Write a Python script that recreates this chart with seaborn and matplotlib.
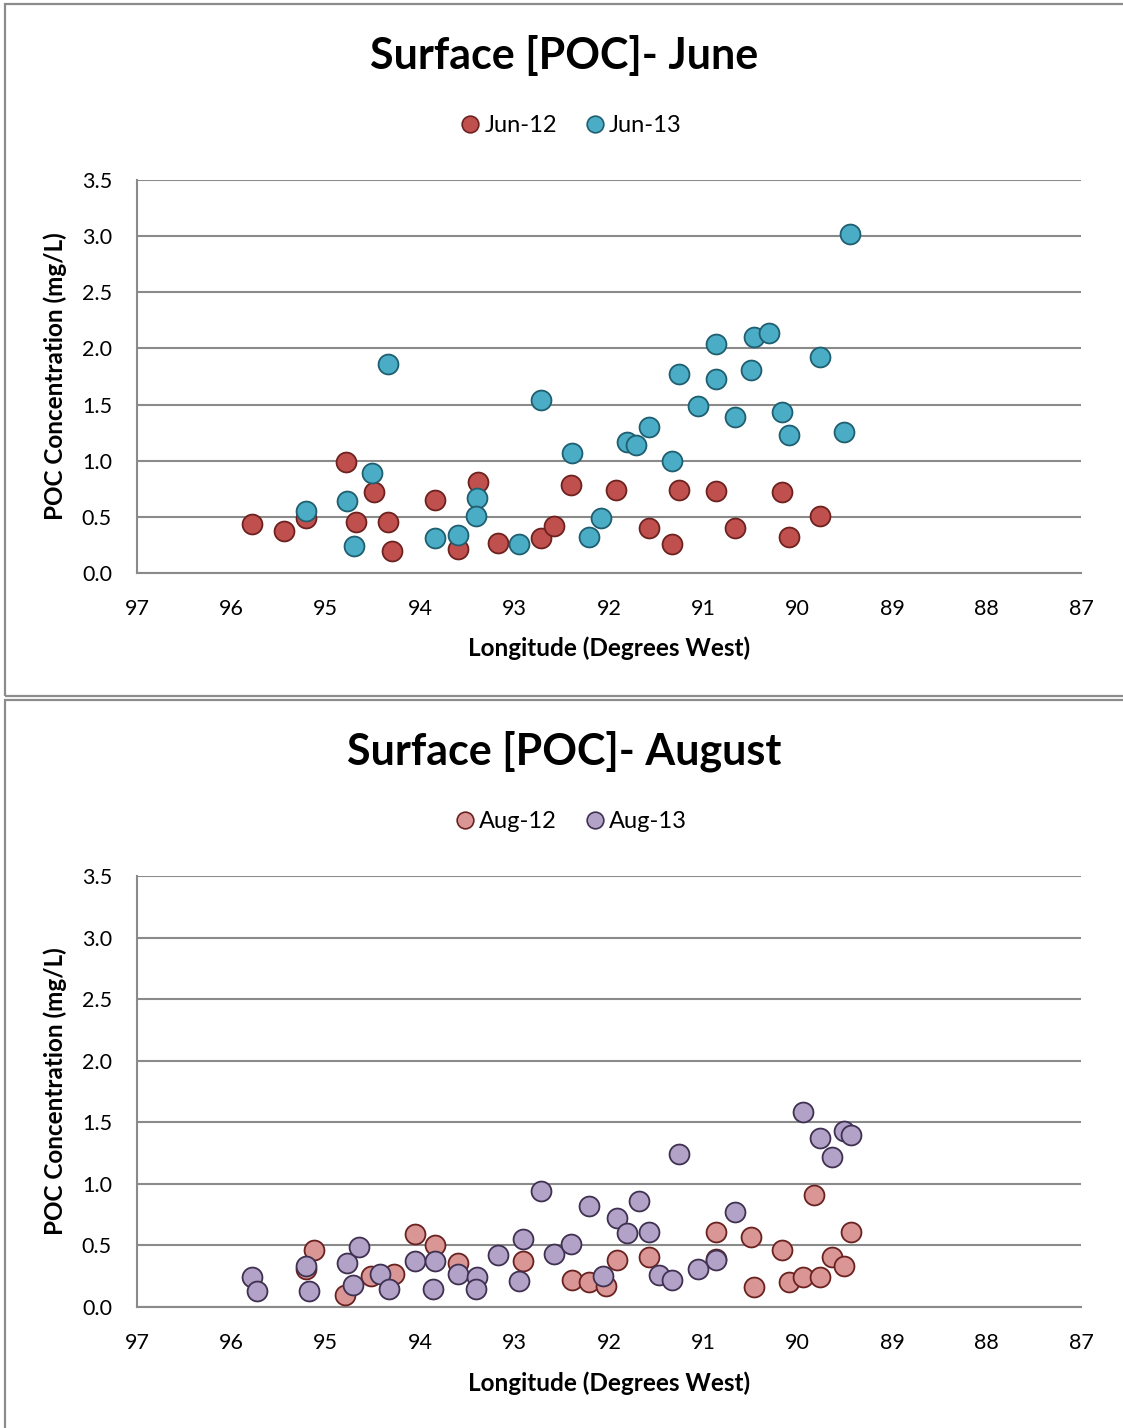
import matplotlib
matplotlib.use("Agg")
import matplotlib.pyplot as plt
import seaborn as sns
import pandas as pd
from matplotlib.patches import Rectangle
from matplotlib.lines import Line2D

# ---------------- data ----------------
jun12_lon = [95.78, 95.44, 95.21, 94.79, 94.49, 94.68, 94.34, 94.30, 93.84, 93.39,
             93.60, 93.18, 92.72, 92.58, 92.40, 91.93, 91.58, 91.33, 91.26, 90.87,
             90.67, 90.17, 90.09, 89.77]
jun12_poc = [0.44, 0.37, 0.49, 0.99, 0.72, 0.45, 0.45, 0.20, 0.65, 0.81,
             0.21, 0.27, 0.31, 0.42, 0.78, 0.74, 0.40, 0.26, 0.74, 0.73,
             0.40, 0.72, 0.32, 0.51]

jun13_lon = [95.21, 94.78, 94.51, 94.70, 94.34, 93.84, 93.60, 93.40, 93.41, 92.95,
             92.72, 92.39, 92.21, 92.09, 91.81, 91.71, 91.58, 91.33, 91.26, 91.06,
             90.87, 90.87, 90.67, 90.50, 90.46, 90.30, 90.17, 90.09, 89.77, 89.51,
             89.45]
jun13_poc = [0.55, 0.64, 0.89, 0.24, 1.86, 0.31, 0.34, 0.67, 0.51, 0.26,
             1.54, 1.07, 0.32, 0.49, 1.17, 1.14, 1.30, 1.00, 1.77, 1.49,
             2.04, 1.73, 1.39, 1.81, 2.10, 2.14, 1.43, 1.23, 1.92, 1.26,
             3.02]

aug12_lon = [95.12, 95.21, 94.80, 94.52, 94.28, 94.05, 93.84, 93.60, 92.91, 92.39,
             92.21, 92.03, 91.92, 91.58, 90.87, 90.87, 90.50, 90.46, 90.17, 90.09,
             89.94, 89.83, 89.77, 89.64, 89.51, 89.44]
aug12_poc = [0.46, 0.31, 0.10, 0.25, 0.27, 0.59, 0.50, 0.36, 0.37, 0.22,
             0.20, 0.17, 0.38, 0.41, 0.61, 0.39, 0.57, 0.16, 0.46, 0.20,
             0.24, 0.91, 0.24, 0.41, 0.33, 0.61]

aug13_lon = [95.78, 95.73, 95.21, 95.18, 94.78, 94.65, 94.71, 94.43, 94.33, 94.05,
             93.84, 93.86, 93.60, 93.40, 93.41, 93.18, 92.91, 92.95, 92.72, 92.58,
             92.40, 92.21, 92.06, 91.92, 91.81, 91.68, 91.58, 91.47, 91.33, 91.26,
             91.06, 90.87, 90.67, 89.94, 89.77, 89.64, 89.51, 89.44]
aug13_poc = [0.24, 0.13, 0.33, 0.13, 0.36, 0.49, 0.18, 0.27, 0.15, 0.37,
             0.37, 0.15, 0.27, 0.24, 0.15, 0.42, 0.55, 0.21, 0.94, 0.43,
             0.51, 0.82, 0.25, 0.72, 0.60, 0.86, 0.61, 0.26, 0.22, 1.24,
             0.31, 0.38, 0.77, 1.58, 1.37, 1.22, 1.43, 1.40]

titles = ["Surface [POC]- June", "Surface [POC]- August"]
labels_top = ["Jun-12", "Jun-13"]
labels_bot = ["Aug-12", "Aug-13"]
yticks = [0.0, 0.5, 1.0, 1.5, 2.0, 2.5, 3.0, 3.5]
xticks = [97, 96, 95, 94, 93, 92, 91, 90, 89, 88, 87]

# ---------------- style ----------------
sns.set_theme(style="white")
plt.rcParams['font.family'] = ['Lato', 'DejaVu Sans']
plt.rcParams['text.color'] = 'black'
plt.rcParams['axes.labelcolor'] = 'black'
plt.rcParams['xtick.color'] = 'black'
plt.rcParams['ytick.color'] = 'black'

W, H = 1123, 1428
fig = plt.figure(figsize=(W / 100, H / 100), dpi=100)

GRID = '#8a8a8a'
fills = {"Jun-12": '#C0504D', "Jun-13": '#4BACC6', "Aug-12": '#D99694', "Aug-13": '#B3A2C7'}
edges = {"Jun-12": '#6e2220', "Jun-13": '#1f5f70', "Aug-12": '#6a2220', "Aug-13": '#3f3151'}

# panel borders
for (y0, y1) in [(4, 696), (700, 1432)]:
    fig.patches.append(Rectangle((4.5 / W, 1 - y1 / H), (W + 10) / W, (y1 - y0) / H,
                                 transform=fig.transFigure, fill=False,
                                 edgecolor='#8c8c8c', linewidth=1.6, zorder=0))

panels = [
    dict(top=180, bot=573, title_y=55, leg_y=126, xlab_y=648,
         series=[(labels_top[0], jun12_lon, jun12_poc), (labels_top[1], jun13_lon, jun13_poc)],
         title=titles[0]),
    dict(top=876, bot=1307, title_y=751, leg_y=822, xlab_y=1383,
         series=[(labels_bot[0], aug12_lon, aug12_poc), (labels_bot[1], aug13_lon, aug13_poc)],
         title=titles[1]),
]

left_px, right_px = 137, 1081
for p in panels:
    ax = fig.add_axes([left_px / W, 1 - p['bot'] / H, (right_px - left_px) / W, (p['bot'] - p['top']) / H])
    handles = []
    for name, lon, poc in p['series']:
        df = pd.DataFrame({"lon": lon, "poc": poc})
        sns.scatterplot(data=df, x="lon", y="poc", ax=ax, s=205, color=fills[name],
                        edgecolor=edges[name], linewidth=1.3, zorder=3, legend=False)
        handles.append(Line2D([], [], marker='o', linestyle='none', markersize=12,
                              markerfacecolor=fills[name], markeredgecolor=edges[name],
                              markeredgewidth=1.2, label=name))
    ax.set_xlim(97, 87)
    ax.set_ylim(0, 3.5)
    ax.set_xticks(xticks)
    ax.set_xticklabels([str(t) for t in xticks])
    ax.set_yticks(yticks)
    ax.set_yticklabels([f"{t:.1f}" for t in yticks])
    ax.grid(axis='y', color=GRID, linewidth=1.5)
    ax.grid(axis='x', visible=False)
    ax.set_axisbelow(True)
    for side in ['top', 'right']:
        ax.spines[side].set_visible(False)
    for side in ['left', 'bottom']:
        ax.spines[side].set_color(GRID)
        ax.spines[side].set_linewidth(1.5)
    ax.tick_params(axis='both', length=0, labelsize=15.5, colors='black')
    ax.tick_params(axis='x', pad=19)
    ax.tick_params(axis='y', pad=18)
    ax.set_xlabel("Longitude (Degrees West)", fontsize=17.5, fontweight='bold')
    ax.set_ylabel("POC Concentration (mg/L)", fontsize=17.5, fontweight='bold')
    h = p['bot'] - p['top']
    ax.xaxis.set_label_coords(0.5, (p['bot'] - p['xlab_y']) / h)
    ax.xaxis.label.set_va('center')
    ax.yaxis.set_label_coords((55 - left_px) / (right_px - left_px), 0.5)
    ax.yaxis.label.set_va('center')

    fig.text(564 / W, 1 - p['title_y'] / H, p['title'], ha='center', va='center',
             fontsize=31, fontweight='bold', color='black')
    fig.legend(handles=handles, loc='center', bbox_to_anchor=(569 / W, 1 - p['leg_y'] / H),
               ncol=2, frameon=False, fontsize=17, handletextpad=0.0, columnspacing=1.0,
               handlelength=1.2, borderaxespad=0)

fig.savefig("out.png", dpi=100)
